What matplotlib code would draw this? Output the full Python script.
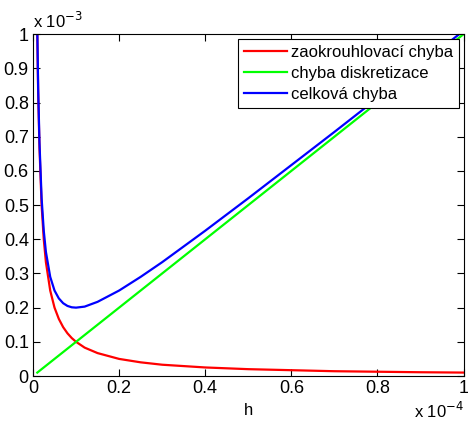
import numpy as np
import matplotlib.pyplot as plt
from matplotlib.ticker import FuncFormatter

plt.rcParams['font.family'] = ['Liberation Sans', 'DejaVu Sans']

# krok h (x 1e-4)
h = [0.01, 0.012, 0.015, 0.02, 0.025, 0.03, 0.04, 0.05, 0.06, 0.07, 0.08,
     0.09, 0.1, 0.12, 0.15, 0.2, 0.25, 0.3, 0.4, 0.5, 0.6, 0.7, 0.8, 0.9, 1.0]
# zaokrouhlovaci chyba (x 1e-3)
zaokr = [1.0, 0.83, 0.67, 0.5, 0.4, 0.333, 0.25, 0.2, 0.167, 0.143, 0.125,
         0.111, 0.1, 0.083, 0.067, 0.05, 0.04, 0.033, 0.025, 0.02, 0.017,
         0.014, 0.0125, 0.011, 0.01]
# chyba diskretizace (x 1e-3)
diskr = [0.01, 0.012, 0.015, 0.02, 0.025, 0.03, 0.04, 0.05, 0.06, 0.07, 0.08,
         0.09, 0.1, 0.12, 0.15, 0.2, 0.25, 0.3, 0.4, 0.5, 0.6, 0.7, 0.8, 0.9, 1.0]
# celkova chyba (x 1e-3)
celk = [1.01, 0.842, 0.685, 0.52, 0.425, 0.363, 0.29, 0.25, 0.227, 0.213, 0.205,
        0.201, 0.2, 0.203, 0.217, 0.25, 0.29, 0.333, 0.425, 0.52, 0.617,
        0.714, 0.8125, 0.911, 1.01]

hx = np.array(h) * 1e-4

fig = plt.figure(figsize=(4.68, 4.22), dpi=100)
ax = fig.add_axes([0.0705, 0.109, 0.92, 0.81])

ax.plot(hx, np.array(zaokr) * 1e-3, color='#ff0000', lw=1.6, label='zaokrouhlovací chyba')
ax.plot(hx, np.array(diskr) * 1e-3, color='#00ff00', lw=1.6, label='chyba diskretizace')
ax.plot(hx, np.array(celk) * 1e-3, color='#0000ff', lw=1.6, label='celková chyba')

ax.set_xlim(0, 1e-4)
ax.set_ylim(0, 1e-3)
ax.set_xticks(np.arange(0, 1.01, 0.2) * 1e-4)
ax.set_yticks(np.arange(0, 1.01, 0.1) * 1e-3)
ax.xaxis.set_major_formatter(FuncFormatter(lambda v, p: '%g' % round(v * 1e4, 6)))
ax.yaxis.set_major_formatter(FuncFormatter(lambda v, p: '%g' % round(v * 1e3, 6)))
ax.tick_params(direction='in', top=True, right=True, labelsize=13, length=5, width=0.8, pad=3)
for s in ax.spines.values():
    s.set_linewidth(0.8)

ax.set_xlabel('h', fontsize=12)
ax.text(0.0, 1.01, 'x 10$^{-3}$', transform=ax.transAxes, fontsize=12, va='bottom', ha='left')
ax.text(1.0, -0.072, 'x 10$^{-4}$', transform=ax.transAxes, fontsize=12, va='top', ha='right')

leg = ax.legend(loc='upper right', fontsize=12, fancybox=False, framealpha=1,
                edgecolor='black', borderaxespad=0.3, handlelength=2.6,
                labelspacing=0.35, borderpad=0.35, handletextpad=0.2)
leg.get_frame().set_linewidth(0.8)

fig.savefig('out.png', dpi=100)
